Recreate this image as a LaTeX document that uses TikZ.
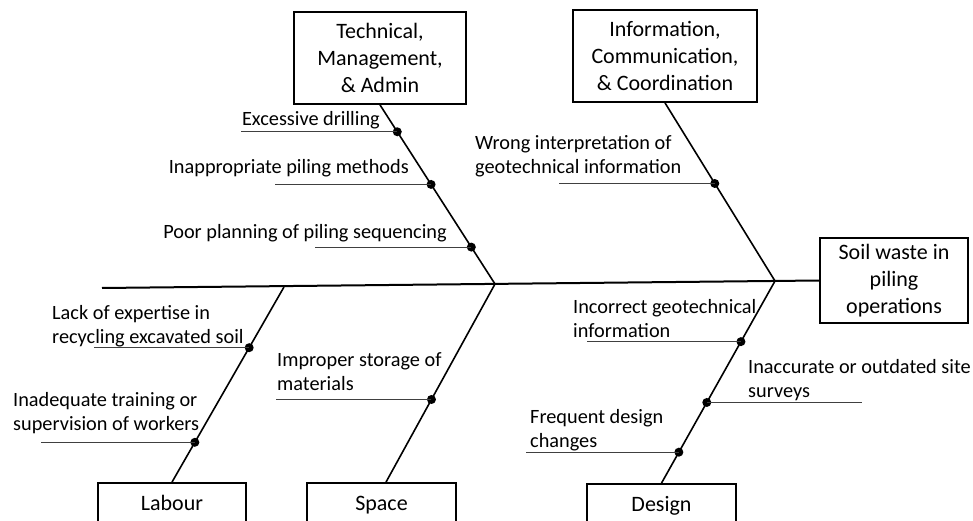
\documentclass[tikz,border=0pt]{standalone}
\usepackage{fontspec}
\setmainfont{Carlito}
\usetikzlibrary{calc}
\begin{document}
\begin{tikzpicture}[x=1pt,y=-1pt,
  box/.style={draw, line width=1.8pt, rectangle, align=center, inner sep=0pt, font=\fontsize{22}{26.8}\selectfont},
  lowbox/.style={box, text height=15pt, text depth=5pt},
  spine/.style={line width=2pt},
  bone/.style={line width=1.6pt},
  leaf/.style={line width=0.9pt, draw=black!75},
  dot/.style={circle, fill=black, inner sep=0pt, minimum size=9pt},
  lbl/.style={inner sep=0pt, font=\fontsize{20.3}{24}\selectfont}
]
\clip (0,0) rectangle (973,521);
% boxes
\node[box, minimum width=172pt, minimum height=92pt] (tech) at (380,58) {Technical,\\Management,\\\& Admin};
\node[box, minimum width=184pt, minimum height=92pt] (info) at (665,56) {Information,\\Communication,\\\& Coordination};
\node[box, minimum width=148pt, minimum height=85pt] (soil) at (894,280.5) {Soil waste in\\piling\\operations};
\node[lowbox, minimum width=148pt, minimum height=44pt] (labour) at (172,505) {Labour};
\node[lowbox, minimum width=149pt, minimum height=44pt] (space) at (381.5,505) {Space};
\node[lowbox, minimum width=149pt, minimum height=44pt] (design) at (661.5,506) {Design};
% spine
\coordinate (s0) at (102,288);
\coordinate (j1) at (495,284);
\coordinate (j2) at (775,281);
\coordinate (j3) at (284,287);
\draw[spine] (s0) -- (soil.west);
% branches
\coordinate (sp) at ([xshift=4.5pt]space.north);
\draw[bone] (tech.south) -- (j1);
\draw[bone] (sp) -- (j1);
\draw[bone] (info.south) -- (j2);
\draw[bone] (design.north) -- (j2);
\draw[bone] (labour.north) -- (j3);
% dots
\node[dot] (t1) at ($(tech.south)!0.15!(j1)$) {};
\node[dot] (t2) at ($(tech.south)!0.444!(j1)$) {};
\node[dot] (t3) at ($(tech.south)!0.794!(j1)$) {};
\node[dot] (i1) at ($(info.south)!0.4525!(j2)$) {};
\node[dot] (l1) at ($(labour.north)!0.689!(j3)$) {};
\node[dot] (l2) at ($(labour.north)!0.204!(j3)$) {};
\node[dot] (p1) at ($(sp)!0.417!(j1)$) {};
\node[dot] (d1) at ($(design.north)!0.70!(j2)$) {};
\node[dot] (d2) at ($(design.north)!0.399!(j2)$) {};
\node[dot] (d3) at ($(design.north)!0.153!(j2)$) {};
% underlines
\draw[leaf] (t1.center) -- ++(-156,0);
\draw[leaf] (t2.center) -- ++(-156,0);
\draw[leaf] (t3.center) -- ++(-156,0);
\draw[leaf] (i1.center) -- ++(-156,0);
\draw[leaf] (l1.center) -- ++(-155,0);
\draw[leaf] (l2.center) -- ++(-154,0);
\draw[leaf] (p1.center) -- ++(-155,0);
\draw[leaf] (d1.center) -- ++(-154,0);
\draw[leaf] (d2.center) -- ++(155,0);
\draw[leaf] (d3.center) -- ++(-153,0);
% labels
\node[lbl, anchor=base east] (tl1) at (380,126) {Excessive drilling};
\node[lbl, anchor=base east] (tl2) at (409,174) {Inappropriate piling methods};
\node[lbl, anchor=base east] (tl3) at (447,238) {Poor planning of piling sequencing};
\node[lbl, anchor=base west, align=left] (il1) at (475,174) {Wrong interpretation of\\geotechnical information};
\node[lbl, anchor=base west, align=left] (ll1) at (52,343) {Lack of expertise in\\recycling excavated soil};
\node[lbl, anchor=base west, align=left] (ll2) at (13,430) {Inadequate training or\\supervision of workers};
\node[lbl, anchor=base west, align=left] (pl1) at (277,390) {Improper storage of\\materials};
\node[lbl, anchor=base west, align=left] (dl1) at (573,337) {Incorrect geotechnical\\information};
\node[lbl, anchor=base west, align=left] (dl2) at (748,397) {Inaccurate or outdated site\\surveys};
\node[lbl, anchor=base west, align=left] (dl3) at (530,447) {Frequent design\\changes};
\end{tikzpicture}
\end{document}
